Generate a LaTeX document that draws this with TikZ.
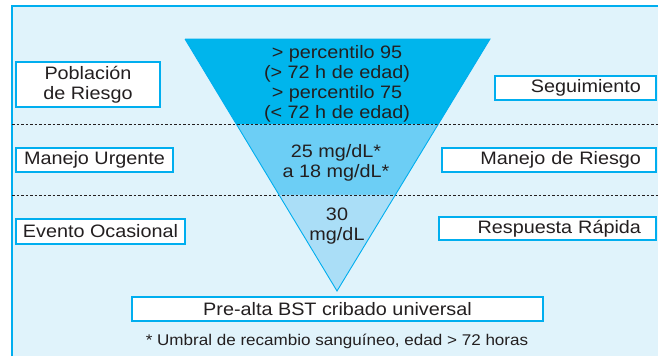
\documentclass[tikz,border=0pt]{standalone}
\usepackage{fontspec}
\setmainfont{Liberation Sans}[FakeStretch=1.1]
\usetikzlibrary{calc}
\definecolor{fondo}{RGB}{224,243,251}
\definecolor{borde}{RGB}{0,174,239}
\definecolor{banda1}{RGB}{0,181,236}
\definecolor{banda2}{RGB}{108,206,245}
\definecolor{banda3}{RGB}{170,222,247}
\definecolor{texto}{RGB}{35,31,32}
\tikzset{
    caja/.style={draw=borde,line width=1.2pt,fill=white,inner sep=0pt,minimum height=24pt,
        text=texto,font=\fontsize{18}{20}\selectfont,align=center},
    cajad/.style={caja,inner xsep=15pt,align=right},
    rotulo/.style={text=texto,font=\fontsize{18}{20}\selectfont,align=center,inner sep=0pt},
    corte/.style={texto,line width=0.8pt,dash pattern=on 2.5pt off 2pt}
}
\begin{document}
\begin{tikzpicture}[x=1pt,y=-1pt]
    \useasboundingbox(0,0)rectangle(658,356);
    \fill[fondo](12,6)rectangle(658,356);
    \draw[borde,line width=1.2pt](12,356)--(12,6)--(658,6);
    
    % triangulo
    \coordinate(A)at(185,39);
    \coordinate(B)at(490,39);
    \coordinate(C)at(337,291);
    \coordinate(A1)at($(A)!85/252!(C)$);
    \coordinate(B1)at($(B)!85/252!(C)$);
    \coordinate(A2)at($(A)!156/252!(C)$);
    \coordinate(B2)at($(B)!156/252!(C)$);
    
    \fill[banda1](A)--(B)--(B1)--(A1)--cycle;
    \fill[banda2](A1)--(B1)--(B2)--(A2)--cycle;
    \fill[banda3](A2)--(B2)--(C)--cycle;
    
    % lineas de corte
    \coordinate(L1)at(12,124);
    \coordinate(R1)at(658,124);
    \coordinate(L2)at(12,195);
    \coordinate(R2)at(658,195);
    \draw[corte](L1)--(R1);
    \draw[corte](L2)--(R2);
    
    \draw[borde,line width=0.9pt](A)--(B)--(C)--(A);
    
    \node[rotulo](p1)at(337,84){> percentilo 95\\(> 72 h de edad)\\> percentilo 75\\(< 72 h de edad)};
    \node[rotulo](p2)at(336,163){25 mg/dL*\\a 18 mg/dL*};
    \node[rotulo](p3)at(337,226){30\\mg/dL};
    
    % cajas
    \node[caja,minimum width=144pt,minimum height=45pt](pob)at(88,84.5){Población\\de Riesgo};
    \node[caja,minimum width=157pt](urg)at(94.5,160){Manejo Urgente};
    \node[caja,minimum width=169pt,minimum height=25pt](evt)at(100.5,231.5){Evento Ocasional};
    \node[cajad,text width=131pt](seg)at(575.5,88){Seguimiento};
    \node[cajad,text width=184pt](mrg)at(549,160){Manejo de Riesgo};
    \node[cajad,text width=187pt,minimum height=23pt](resp)at(547.5,228.5){Respuesta Rápida};
    \node[caja,minimum width=411pt](pre)at(337.5,309){Pre-alta BST cribado universal};
    
    \node[rotulo,font=\fontsize{15.5}{18}\selectfont](nota)at(337,341){* Umbral de recambio sanguíneo, edad > 72 horas};
\end{tikzpicture}
\end{document}
